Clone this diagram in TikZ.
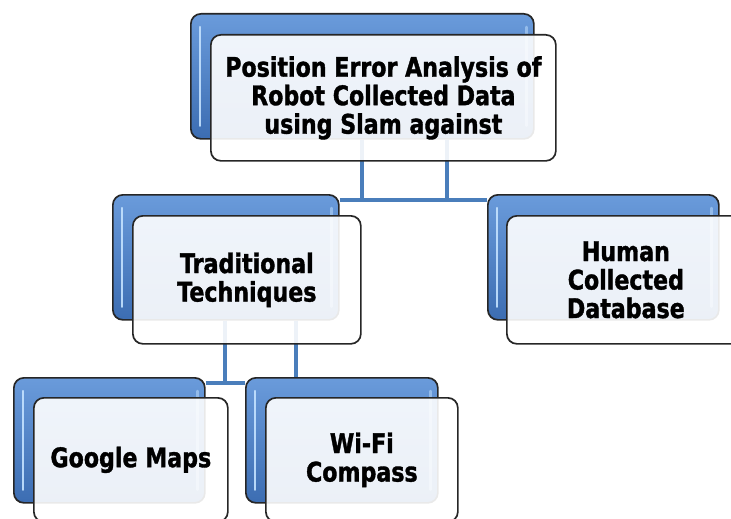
\documentclass[tikz,border=0pt]{standalone}
\usepackage{fontspec}
\setmainfont{DejaVu Sans}[FakeStretch=0.82, BoldFeatures={FakeBold=1.3}]
\usetikzlibrary{calc, positioning, backgrounds}

\definecolor{boxtop}{HTML}{6A9BDB}
\definecolor{boxbottom}{HTML}{3C6DB2}
\definecolor{linkblue}{HTML}{4A7EBB}
\definecolor{glossblue}{HTML}{C4E2FF}

\tikzset{
  backbox/.style={draw=black!85, line width=1.7pt, rounded corners=10pt,
    top color=boxtop, bottom color=boxbottom, inner sep=0pt, anchor=north west,
    minimum height=125pt},
  frontbox/.style={draw=black!85, line width=1.7pt, rounded corners=10pt,
    fill=white, fill opacity=0.9, text opacity=1, inner sep=0pt, anchor=north west,
    minimum height=126pt, align=center, font=\bfseries\fontsize{27}{28.5}\selectfont},
  gloss/.style={draw=glossblue, line width=2.5pt, line cap=round, opacity=0.9},
  link/.style={draw=linkblue, line width=3.5pt}
}

\begin{document}
\begin{tikzpicture}[x=1pt, y=-1pt]
  \clip (0,0) rectangle (731,519);
  \useasboundingbox (0,0) rectangle (731,519);

  % back boxes
  \node [backbox, minimum width=343pt] (topb) at (190,13) {};
  \node [backbox, minimum width=226pt] (tradb) at (112,194) {};
  \node [backbox, minimum width=231pt] (humanb) at (487,194) {};
  \node [backbox, minimum width=191pt] (googleb) at (13,377) {};
  \node [backbox, minimum width=192pt] (wifib) at (245,377) {};

  \foreach \b in {topb, tradb, humanb, googleb, wifib} {
    \draw [gloss] ($(\b.north west)+(10,14)$) -- ($(\b.south west)+(10,-14)$);
    \draw [gloss, opacity=0.5] ($(\b.north east)+(-8,14)$) -- ($(\b.south east)+(-8,-14)$);
  }

  % front boxes
  \node [frontbox, minimum width=345pt] (top) at (210,34)
    {Position Error Analysis of\\Robot Collected Data\\using Slam against};
  \node [frontbox, minimum width=228pt, minimum height=128pt] (trad) at (132,215)
    {Traditional\\Techniques};
  \node [frontbox, minimum width=238pt, minimum height=128pt] (human) at (506,215)
    {Human\\Collected\\Database};
  \node [frontbox, minimum width=194pt, minimum height=124pt] (google) at (33,397)
    {Google Maps};
  \node [frontbox, minimum width=192pt, minimum height=124pt] (wifi) at (265,397)
    {Wi-Fi\\Compass};

  % connectors
  \coordinate (j1) at (362,200);
  \coordinate (j2) at (447,200);
  \coordinate (j3) at (225,383);
  \coordinate (j4) at (296,383);

  \begin{scope}[on background layer]
    \draw [link] (j1 |- topb.south) -- (j1);
    \draw [link] (j2 |- topb.south) -- (j2);
    \draw [link] (tradb.east |- j1) -- (humanb.west |- j2);
    \draw [link] (j3 |- tradb.south) -- (j3);
    \draw [link] (j4 |- tradb.south) -- (j4 |- wifib.north);
    \draw [link] (googleb.east |- j3) -- (wifib.west |- j3);
  \end{scope}
\end{tikzpicture}
\end{document}
